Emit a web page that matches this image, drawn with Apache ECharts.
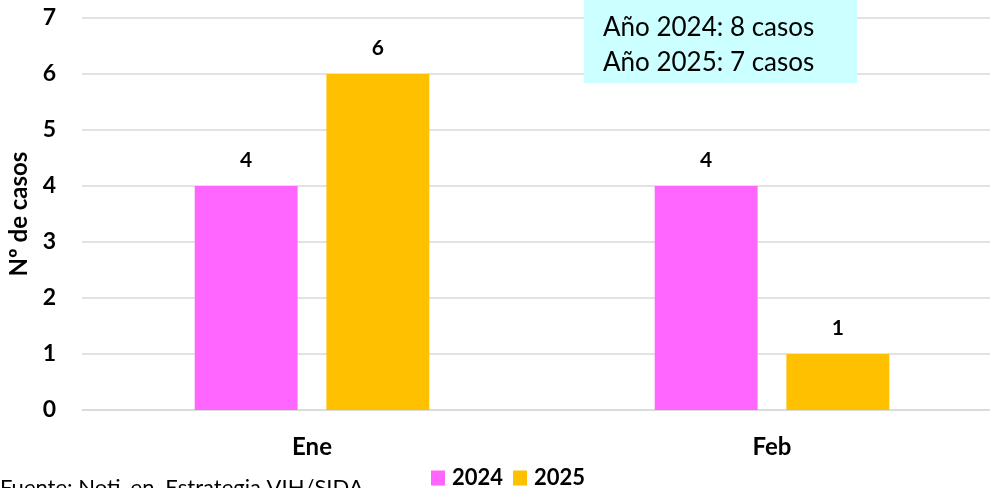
<!DOCTYPE html>
<html>
<head>
<meta charset="utf-8">
<script src="https://cdn.jsdelivr.net/npm/echarts@6/dist/echarts.min.js"></script>
<style>
  html, body { margin: 0; padding: 0; background: #fff; overflow: hidden; }
  #chart { width: 1002px; height: 488px; }
</style>
</head>
<body>
<div id="chart"></div>
<script>
// datos
const meses = ["Ene", "Feb"];
const casos2024 = [4, 4];
const casos2025 = [6, 1];
const yTicks = [0, 1, 2, 3, 4, 5, 6, 7];
const resumen = ["Año 2024: 8 casos", "Año 2025: 7 casos"];
const fuente = "Fuente: Noti_en. Estrategia VIH/SIDA";

const FONT = "Lato, 'Open Sans', sans-serif";

let myChart = echarts.init(document.getElementById("chart"));

const labelStyle = {
  show: true,
  position: "top",
  distance: 15,
  color: "#000",
  fontWeight: "bold",
  fontSize: 21,
  fontFamily: FONT,
};

const option = {
  animation: false,
  textStyle: { fontFamily: FONT },
  grid: {
    left: 82,
    right: 0, // el área de trazado sigue más allá del borde derecho (contenedor de 1002px)
    top: 18,
    bottom: 78,
    outerBoundsMode: "none",
  },
  legend: {
    left: 431,
    top: 467,
    padding: 0,
    itemWidth: 14,
    itemHeight: 15,
    itemGap: 10,
    icon: "rect",
    textStyle: {
      color: "#000",
      fontWeight: "bold",
      fontSize: 22,
      fontFamily: FONT,
      padding: [0, 0, 0, 2],
    },
    data: ["2024", "2025"],
  },
  xAxis: {
    type: "category",
    data: meses,
    axisTick: { show: false },
    axisLine: { lineStyle: { color: "#D9D9D9", width: 1.5 } },
    axisLabel: {
      color: "#000",
      fontWeight: "bold",
      fontSize: 24,
      margin: 25,
      fontFamily: FONT,
    },
  },
  yAxis: {
    type: "value",
    min: yTicks[0],
    max: yTicks[yTicks.length - 1],
    interval: 1,
    name: "Nº de casos",
    nameLocation: "middle",
    nameGap: 50,
    nameTextStyle: {
      color: "#000",
      fontWeight: "bold",
      fontSize: 24,
      fontFamily: FONT,
    },
    axisLabel: {
      color: "#000",
      fontWeight: "bold",
      fontSize: 23,
      margin: 26,
      fontFamily: FONT,
    },
    splitLine: { lineStyle: { color: "#D9D9D9", width: 1.5 } },
  },
  series: [
    {
      name: "2024",
      type: "bar",
      data: casos2024,
      itemStyle: { color: "#FF66FF" },
      barGap: "28%",
      barCategoryGap: "49%",
      label: labelStyle,
    },
    {
      name: "2025",
      type: "bar",
      data: casos2025,
      itemStyle: { color: "#FFC000" },
      barGap: "28%",
      barCategoryGap: "49%",
      label: labelStyle,
    },
  ],
  graphic: [
    {
      type: "rect",
      left: 584,
      top: 0,
      shape: { width: 273, height: 83 },
      style: { fill: "#CCFFFF" },
      z: 10,
    },
    {
      type: "text",
      left: 603,
      top: 10,
      style: {
        text: resumen.join("\n"),
        fill: "#000",
        fontSize: 26,
        lineHeight: 35,
        fontFamily: FONT,
      },
      z: 11,
    },
    {
      type: "text",
      left: 0,
      top: 477,
      style: {
        text: fuente,
        fill: "#000",
        fontSize: 22,
        fontFamily: FONT,
      },
      z: 11,
    },
  ],
};

myChart.setOption(option, true);

window.addEventListener("resize", () => {
  myChart.resize();
});
</script>
</body>
</html>
